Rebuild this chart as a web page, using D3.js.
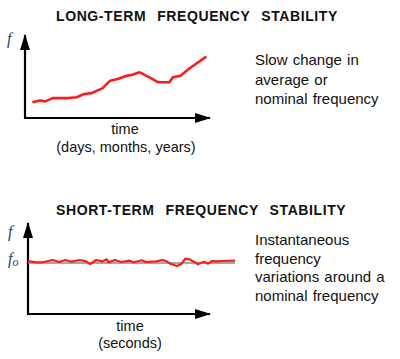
<!DOCTYPE html>
<html>
<head>
<meta charset="utf-8">
<script src="https://cdn.jsdelivr.net/npm/d3@7"></script>
<style>
  html, body { margin: 0; padding: 0; background: #fff; }
  svg { display: block; }
  text { font-family: Arial, "Liberation Sans", sans-serif; fill: #111; }
  .title { font-weight: bold; font-size: 14px; letter-spacing: 0.6px; word-spacing: 6.5px; }
  .lbl { font-size: 14.5px; }
  .note { font-size: 15px; word-spacing: 1px; }
  .sym { font-family: "Liberation Serif", "DejaVu Serif", serif; font-style: italic; font-size: 16px; fill: #2a3f6a; }
</style>
</head>
<body>
<div id="chart"></div>
<script>
// long-term: slow drift of the average frequency
var longTime = [4, 8, 11, 15, 23, 28, 32, 36, 42, 46, 50, 55, 58, 62, 68, 72, 78, 80, 84, 89, 98];
var longFreq = [19, 21, 20, 24, 24, 25, 29, 30, 36, 45, 47, 51, 52, 55, 48, 43, 43, 49, 51, 60, 74];

// short-term: jitter around f0 (deviation, f0 = 0)
var shortTime = [0, 4, 7, 12, 15, 18, 21, 25, 28, 30, 33, 36, 38, 39, 42, 45, 49, 51, 55, 57,
                 62, 65, 67, 69, 72, 74, 76, 78, 81, 82, 85, 87, 89, 91, 94, 100];
var shortDev = [2, 0.7, 0.7, 3, 1, 3, 1.3, 3, 1.7, -1, 3, 1.7, 3.7, 0.7, 3, 1, 2.3, 0.7, 2.7, 1,
                1.7, 3, 1.7, -1, -3, -1, 4.3, 3.7, 0.3, -1.3, 1.3, -0.7, 2, 1.7, 2, 2.3];

var titles = ["LONG-TERM FREQUENCY STABILITY", "SHORT-TERM FREQUENCY STABILITY"];
var longNote = ["Slow change in", "average or", "nominal frequency"];
var shortNote = ["Instantaneous", "frequency", "variations around a", "nominal frequency"];

const W = 400, H = 359;

var svg = d3.select('#chart')
    .append('svg')
    .attr('width', W)
    .attr('height', H)

var defs = svg.append('defs');
defs.append('marker')
    .attr('id', 'arrow')
    .attr('viewBox', '0 0 16 10')
    .attr('refX', 15)
    .attr('refY', 5)
    .attr('markerWidth', 16)
    .attr('markerHeight', 10)
    .attr('markerUnits', 'userSpaceOnUse')
    .attr('orient', 'auto')
    .append('path')
    .attr('d', 'M0,0 L16,5 L0,10 Z')
    .attr('fill', '#000');

function axes(g, x0, y0, xEnd, yEnd) {
    g.append('path')
        .attr('d', d3.line()([[x0, y0], [x0, yEnd]]))
        .attr('stroke', '#000').attr('stroke-width', 2.2)
        .attr('marker-end', 'url(#arrow)');
    g.append('path')
        .attr('d', d3.line()([[x0 - 1, y0], [xEnd, y0]]))
        .attr('stroke', '#000').attr('stroke-width', 2.2)
        .attr('marker-end', 'url(#arrow)');
}

function note(lines, x, y0, step) {
    svg.append('g').selectAll('text').data(lines).enter()
        .append('text')
        .attr('class', 'note')
        .attr('x', x)
        .attr('y', function(d, i) { return y0 + i * step; })
        .text(function(d) { return d; });
}

// ---- top panel ----
var topG = svg.append('g');
var xL = d3.scaleLinear().domain([0, 100]).range([25, 210]);
var yL = d3.scaleLinear().domain([0, 100]).range([118, 35]);

topG.append('text').attr('class', 'title').attr('x', 56).attr('y', 21).text(titles[0]);
axes(topG, xL(0), yL(0), xL(100), yL(100));

topG.append('path')
    .datum(d3.zip(longTime, longFreq))
    .attr('fill', 'none')
    .attr('stroke', '#ff1a1a')
    .attr('stroke-width', 2.6)
    .attr('stroke-linejoin', 'round')
    .attr('d', d3.line().x(function(d) { return xL(d[0]); }).y(function(d) { return yL(d[1]); }));

topG.append('text').attr('class', 'sym').attr('x', 7).attr('y', 44).text('f');
topG.append('text').attr('class', 'lbl').attr('x', 125).attr('y', 134).attr('text-anchor', 'middle').text('time');
topG.append('text').attr('class', 'lbl').attr('x', 126).attr('y', 152).attr('text-anchor', 'middle').text('(days, months, years)');
note(longNote, 255, 65, 19.5);

// ---- bottom panel ----
var botG = svg.append('g');
var xS = d3.scaleLinear().domain([0, 100]).range([28, 235]);
var yS = d3.scaleLinear().domain([-5, 5]).range([268, 258]);
const axisBase = 314, axisTop = 223, axisRight = 210;

botG.append('text').attr('class', 'title').attr('x', 56).attr('y', 214.5).text(titles[1]);
axes(botG, xS(0), axisBase, axisRight, axisTop);

botG.append('path')
    .attr('d', d3.line()([[xS(0), yS(0)], [xS(100), yS(0)]]))
    .attr('stroke', '#888').attr('stroke-width', 1.3);

botG.append('path')
    .datum(d3.zip(shortTime, shortDev))
    .attr('fill', 'none')
    .attr('stroke', '#ff1a1a')
    .attr('stroke-width', 2.2)
    .attr('stroke-linejoin', 'round')
    .attr('d', d3.line().x(function(d) { return xS(d[0]); }).y(function(d) { return yS(d[1]); }));

botG.append('text').attr('class', 'sym').attr('x', 8).attr('y', 237).text('f');
var f0 = botG.append('text').attr('class', 'sym').attr('x', 8).attr('y', 264);
f0.append('tspan').text('f');
f0.append('tspan').attr('dy', 2).attr('font-size', 12).text('o');

botG.append('text').attr('class', 'lbl').attr('x', 130).attr('y', 331).attr('text-anchor', 'middle').text('time');
botG.append('text').attr('class', 'lbl').attr('x', 130).attr('y', 348).attr('text-anchor', 'middle').text('(seconds)');
note(shortNote, 255, 245, 18.5);
</script>
</body>
</html>
